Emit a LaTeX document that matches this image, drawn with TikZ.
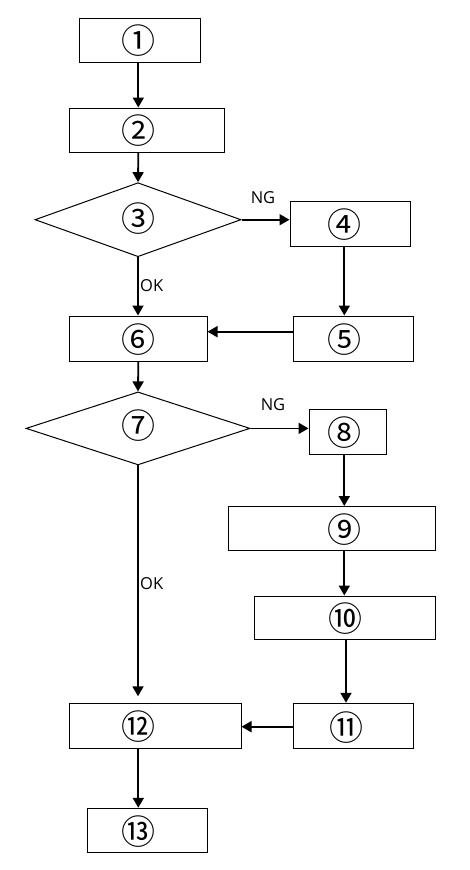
\documentclass[tikz,border=0pt]{standalone}
\usepackage{fontspec}
\newfontfamily\cjk{Noto Sans CJK SC}
\newfontfamily\lblfont{Open Sans}
\usetikzlibrary{shapes.geometric,arrows.meta}
\begin{document}
\begin{tikzpicture}[x=1pt,y=-1pt,
  box/.style={draw,line width=1pt,rectangle,inner sep=0pt},
  dia/.style={draw,line width=1pt,diamond,inner sep=0pt},
  num/.style={font=\cjk\fontsize{34}{34}\selectfont,inner sep=0pt},
  lbl/.style={font=\lblfont\fontsize{16.5}{16.5}\selectfont,inner sep=0pt},
  arr/.style={line width=1.8pt,-{Triangle[width=11pt,length=10pt]}}]
\useasboundingbox (0,0) rectangle (470,870);
\fill[white] (0,0) rectangle (470,870);
% shapes
\node[box,minimum width=121pt,minimum height=44pt] (b1) at (139.5,40) {};
\node[box,minimum width=155pt,minimum height=44pt] (b2) at (146.5,130) {};
\node[dia,minimum width=206pt,minimum height=74pt] (d3) at (138,219.7) {};
\node[box,minimum width=120pt,minimum height=45pt] (b4) at (350,223.5) {};
\node[box,minimum width=120pt,minimum height=45pt] (b5) at (353,338.5) {};
\node[box,minimum width=138pt,minimum height=45pt] (b6) at (138,338.5) {};
\node[dia,minimum width=224pt,minimum height=73pt] (d7) at (138,428.4) {};
\node[box,minimum width=77pt,minimum height=45pt] (b8) at (347.5,431.5) {};
\node[box,minimum width=207pt,minimum height=44pt] (b9) at (331.8,528.5) {};
\node[box,minimum width=181pt,minimum height=43pt] (b10) at (344.8,617.5) {};
\node[box,minimum width=120pt,minimum height=45pt] (b11) at (353,725.8) {};
\node[box,minimum width=172pt,minimum height=45pt] (b12) at (155,725.8) {};
\node[box,minimum width=120pt,minimum height=44pt] (b13) at (147,830.3) {};
% numbers
\node[num] (n1) at (138,41) {①};
\node[num] (n2) at (138,131) {②};
\node[num] (n3) at (138,219) {③};
\node[num] (n4) at (344.3,225) {④};
\node[num] (n5) at (344.3,340) {⑤};
\node[num] (n6) at (138,340) {⑥};
\node[num] (n7) at (138,426) {⑦};
\node[num] (n8) at (344.3,432.5) {⑧};
\node[num] (n9) at (344.3,529.5) {⑨};
\node[num] (n10) at (345.5,618.5) {⑩};
\node[num] (n11) at (346.5,728) {⑪};
\node[num] (n12) at (138,726.5) {⑫};
\node[num] (n13) at (138,831.5) {⑬};
% labels
\node[lbl] (ng1) at (263,197.5) {NG};
\node[lbl,anchor=west] (ok1) at (140,286) {OK};
\node[lbl] (ng2) at (273,405) {NG};
\node[lbl,anchor=west] (ok2) at (140,584) {OK};
% connectors
\coordinate (c1) at (138.3,0);
\coordinate (c2) at (344.3,0);
\draw[arr] (b1.south -| c1) -- (b2.north -| c1);
\draw[arr] (b2.south -| c1) -- (d3.north);
\draw[arr] (d3.east) -- (b4.west |- d3.east);
\draw[arr] (b4.south -| c2) -- (b5.north -| c2);
\coordinate (y5) at (0,331.7);
\draw[arr] (b5.west |- y5) -- (b6.east |- y5);
\draw[arr] (d3.south) -- (b6.north -| d3.south);
\draw[arr] (b6.south -| c1) -- (d7.north);
\draw[arr] (d7.east) -- (b8.west |- d7.east);
\draw[arr] (b8.south -| c2) -- (b9.north -| c2);
\draw[arr] (b9.south -| c2) -- (b10.north -| c2);
\coordinate (c3) at (346,0);
\draw[arr] (b10.south -| c3) -- (b11.north -| c3);
\coordinate (y11) at (0,726.7);
\draw[arr] (b11.west |- y11) -- (b12.east |- y11);
\draw[arr,shorten >=6.5pt] (d7.south) -- (b12.north -| d7.south);
\draw[arr] (b12.south -| c1) -- (b13.north -| c1);
\end{tikzpicture}
\end{document}
